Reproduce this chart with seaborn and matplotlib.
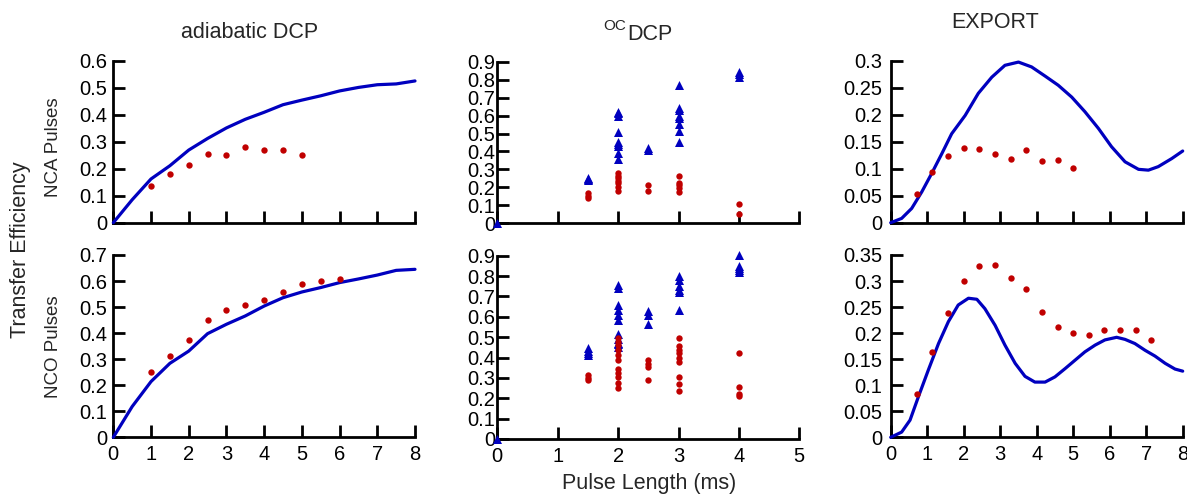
import numpy as np
import pandas as pd
import matplotlib
matplotlib.use("Agg")
import matplotlib.pyplot as plt
import seaborn as sns

# ---------------- data ----------------
# adiabatic DCP, NCA (top-left)
adia_x = [0, 0.5, 1, 1.5, 2, 2.5, 3, 3.5, 4, 4.5, 5, 5.5, 6, 6.5, 7, 7.5, 8]
adia_nca_sim = [0, 0.085, 0.162, 0.211, 0.269, 0.312, 0.351, 0.383, 0.409, 0.437,
                0.454, 0.470, 0.488, 0.501, 0.511, 0.514, 0.525]
adia_nca_exp_x = [1, 1.5, 2, 2.5, 3, 3.5, 4, 4.5, 5]
adia_nca_exp = [0.137, 0.180, 0.212, 0.256, 0.252, 0.280, 0.269, 0.269, 0.249]
# adiabatic DCP, NCO (bottom-left)
adia_nco_sim = [0, 0.118, 0.214, 0.284, 0.331, 0.398, 0.434, 0.466, 0.504, 0.536,
                0.558, 0.575, 0.594, 0.608, 0.623, 0.641, 0.645]
adia_nco_exp_x = [1, 1.5, 2, 2.5, 3, 3.5, 4, 4.5, 5, 5.5, 6]
adia_nco_exp = [0.251, 0.312, 0.372, 0.452, 0.488, 0.508, 0.526, 0.559, 0.587, 0.601, 0.609]

# OC DCP, NCA (top-middle)
oc_nca_sim_x = [0, 1.5, 1.5, 1.5, 2, 2, 2, 2, 2, 2, 2, 2, 2, 2.5, 2.5,
                3, 3, 3, 3, 3, 3, 3, 3, 4, 4, 4]
oc_nca_sim = [0, 0.255, 0.247, 0.24, 0.622, 0.612, 0.60, 0.507, 0.45, 0.44, 0.43, 0.39, 0.356,
              0.42, 0.41, 0.768, 0.643, 0.63, 0.585, 0.553, 0.516, 0.451, 0.60, 0.844, 0.83, 0.815]
oc_nca_exp_x = [1.5, 1.5, 1.5, 2, 2, 2, 2, 2, 2, 2, 2.5, 2.5, 3, 3, 3, 3, 3, 4, 4]
oc_nca_exp = [0.167, 0.15, 0.14, 0.278, 0.265, 0.25, 0.235, 0.222, 0.2, 0.178, 0.213, 0.182,
              0.265, 0.226, 0.215, 0.198, 0.176, 0.107, 0.052]
# OC DCP, NCO (bottom-middle)
oc_nco_sim_x = [0, 1.5, 1.5, 1.5, 1.5, 2, 2, 2, 2, 2, 2, 2, 2, 2, 2, 2,
                2.5, 2.5, 2.5, 3, 3, 3, 3, 3, 3, 4, 4, 4, 4, 4]
oc_nco_sim = [0, 0.445, 0.43, 0.42, 0.41, 0.755, 0.74, 0.658, 0.633, 0.609, 0.584, 0.515,
              0.49, 0.466, 0.45, 0.47, 0.63, 0.61, 0.567, 0.80, 0.78, 0.75, 0.73, 0.72, 0.633,
              0.903, 0.85, 0.84, 0.83, 0.82]
oc_nco_exp_x = [1.5, 1.5, 1.5, 2, 2, 2, 2, 2, 2, 2, 2, 2, 2, 2, 2.5, 2.5, 2.5, 2.5,
                3, 3, 3, 3, 3, 3, 3, 3, 3, 4, 4, 4, 4]
oc_nco_exp = [0.314, 0.30, 0.29, 0.494, 0.478, 0.461, 0.437, 0.412, 0.388, 0.342, 0.322,
              0.303, 0.276, 0.249, 0.39, 0.37, 0.355, 0.29, 0.497, 0.457, 0.437, 0.42, 0.40,
              0.378, 0.303, 0.269, 0.238, 0.424, 0.257, 0.221, 0.21]

# EXPORT, NCA (top-right)
exp_nca_sim_x = [0, 0.30, 0.575, 0.85, 1.12, 1.40, 1.67, 2.04, 2.40, 2.77, 3.13, 3.50,
                 3.86, 4.23, 4.59, 4.96, 5.32, 5.69, 6.05, 6.42, 6.79, 7.06, 7.33, 7.70, 8.0]
exp_nca_sim = [0, 0.008, 0.0265, 0.057, 0.091, 0.128, 0.165, 0.199, 0.240, 0.270, 0.292,
               0.298, 0.289, 0.272, 0.255, 0.233, 0.206, 0.175, 0.141, 0.113, 0.099, 0.0975,
               0.104, 0.119, 0.133]
export_x = [0.714, 1.143, 1.571, 2.0, 2.429, 2.857, 3.286, 3.714, 4.143, 4.571, 5.0,
            5.429, 5.857, 6.286, 6.714, 7.143]
exp_nca_exp = [0.054, 0.094, 0.124, 0.1395, 0.136, 0.128, 0.119, 0.134, 0.114, 0.116, 0.101]
# EXPORT, NCO (bottom-right)
exp_nco_sim_x = [0, 0.30, 0.53, 0.76, 1.03, 1.31, 1.58, 1.85, 2.13, 2.36, 2.58, 2.86, 3.13,
                 3.41, 3.68, 3.95, 4.23, 4.50, 4.78, 5.05, 5.32, 5.60, 5.87, 6.19, 6.42,
                 6.69, 6.97, 7.24, 7.52, 7.79, 8.0]
exp_nco_sim = [0, 0.010, 0.033, 0.078, 0.129, 0.180, 0.222, 0.254, 0.267, 0.265, 0.247,
               0.215, 0.177, 0.142, 0.117, 0.106, 0.106, 0.116, 0.132, 0.148, 0.164, 0.177,
               0.187, 0.192, 0.188, 0.180, 0.167, 0.156, 0.142, 0.131, 0.127]
exp_nco_exp = [0.083, 0.164, 0.239, 0.301, 0.328, 0.330, 0.306, 0.285, 0.240, 0.212, 0.201,
               0.196, 0.206, 0.206, 0.206, 0.187]

# tick labels
xticks_8 = [0, 1, 2, 3, 4, 5, 6, 7, 8]
xticks_5 = [0, 1, 2, 3, 4, 5]
yt_adia_nca = ["0", "0.1", "0.2", "0.3", "0.4", "0.5", "0.6"]
yt_adia_nco = ["0", "0.1", "0.2", "0.3", "0.4", "0.5", "0.6", "0.7"]
yt_oc = ["0", "0.1", "0.2", "0.3", "0.4", "0.5", "0.6", "0.7", "0.8", "0.9"]
yt_exp_nca = ["0", "0.05", "0.1", "0.15", "0.2", "0.25", "0.3"]
yt_exp_nco = ["0", "0.05", "0.1", "0.15", "0.2", "0.25", "0.3", "0.35"]

col_titles = ["adiabatic DCP", "DCP", "EXPORT"]
row_labels = ["NCA Pulses", "NCO Pulses"]

BLUE = "#0000bf"
RED = "#c00000"

# ---------------- style ----------------
sns.set_theme(style="ticks")
plt.rcParams["font.family"] = ["Liberation Sans", "DejaVu Sans"]
plt.rcParams["axes.linewidth"] = 2.0

W, H = 1187, 496
fig = plt.figure(figsize=(W / 100, H / 100), dpi=100)


def px_axes(x0, x1, ytop, ybot):
    return fig.add_axes([x0 / W, 1 - ybot / H, (x1 - x0) / W, (ybot - ytop) / H])


def style(ax, xt, ylabels, show_xlabels, ypad):
    ax.set_xlim(xt[0], xt[-1])
    yvals = [float(v) for v in ylabels]
    ax.set_ylim(0, yvals[-1])
    ax.set_xticks(xt)
    ax.set_yticks(yvals)
    ax.set_yticklabels(ylabels)
    if show_xlabels:
        ax.set_xticklabels([str(v) for v in xt])
    else:
        ax.set_xticklabels([])
    for s in ["top", "right"]:
        ax.spines[s].set_visible(False)
    for s in ["left", "bottom"]:
        ax.spines[s].set_linewidth(2.0)
        ax.spines[s].set_color("black")
    ax.tick_params(axis="both", direction="in", length=8.5, width=2.0, colors="black",
                   labelsize=14.5)
    ax.tick_params(axis="y", pad=ypad)
    ax.tick_params(axis="x", pad=5.5)
    ax.set_xlabel("")
    ax.set_ylabel("")
    ax.set_facecolor("white")


def line(ax, x, y):
    df = pd.DataFrame({"x": x, "y": y})
    sns.lineplot(data=df, x="x", y="y", ax=ax, color=BLUE, linewidth=2.3,
                 estimator=None, sort=False, clip_on=False, zorder=3)


def dots(ax, x, y):
    df = pd.DataFrame({"x": x, "y": y})
    sns.scatterplot(data=df, x="x", y="y", ax=ax, color=RED, s=21, linewidth=0,
                    marker="o", clip_on=False, zorder=4)


def tris(ax, x, y):
    df = pd.DataFrame({"x": x, "y": y})
    sns.scatterplot(data=df, x="x", y="y", ax=ax, color=BLUE, s=42, linewidth=0,
                    marker="^", clip_on=False, zorder=4)


# axes positions (pixels)
ax1 = px_axes(113.3, 415.0, 60.7, 222.7)
ax2 = px_axes(497.3, 799.3, 61.7, 223.3)
ax3 = px_axes(890.7, 1182.7, 61.0, 222.7)
ax4 = px_axes(113.3, 415.0, 255.0, 437.3)
ax5 = px_axes(497.3, 799.3, 255.7, 439.0)
ax6 = px_axes(890.7, 1182.7, 255.0, 437.3)

line(ax1, adia_x, adia_nca_sim)
dots(ax1, adia_nca_exp_x, adia_nca_exp)
style(ax1, xticks_8, yt_adia_nca, False, 4.5)

tris(ax2, oc_nca_sim_x, oc_nca_sim)
dots(ax2, oc_nca_exp_x, oc_nca_exp)
style(ax2, xticks_5, yt_oc, False, 1.5)

line(ax3, exp_nca_sim_x, exp_nca_sim)
dots(ax3, export_x[:len(exp_nca_exp)], exp_nca_exp)
style(ax3, xticks_8, yt_exp_nca, False, 6)

line(ax4, adia_x, adia_nco_sim)
dots(ax4, adia_nco_exp_x, adia_nco_exp)
style(ax4, xticks_8, yt_adia_nco, True, 4.5)

tris(ax5, oc_nco_sim_x, oc_nco_sim)
dots(ax5, oc_nco_exp_x, oc_nco_exp)
style(ax5, xticks_5, yt_oc, True, 1.5)

line(ax6, exp_nco_sim_x, exp_nco_sim)
dots(ax6, export_x, exp_nco_exp)
style(ax6, xticks_8, yt_exp_nco, True, 6)

# titles and labels
def ftext(x, y, s, **kw):
    fig.text(x / W, 1 - y / H, s, **kw)

ftext(250, 33, col_titles[0], ha="center", va="center", fontsize=15.5)
ftext(627, 35, col_titles[1], ha="left", va="center", fontsize=15.5)
ftext(626, 26, "OC", ha="right", va="center", fontsize=11)
ftext(995.5, 22, col_titles[2], ha="center", va="center", fontsize=15.5)

ftext(649, 484, "Pulse Length (ms)", ha="center", va="center", fontsize=15.5)
ftext(21, 250, "Transfer Efficiency", ha="center", va="center", rotation=90, fontsize=15.5)
ftext(53, 147, row_labels[0], ha="center", va="center", rotation=90, fontsize=13.5)
ftext(53, 347, row_labels[1], ha="center", va="center", rotation=90, fontsize=13.5)

fig.savefig("out.png", dpi=100, facecolor="white")
